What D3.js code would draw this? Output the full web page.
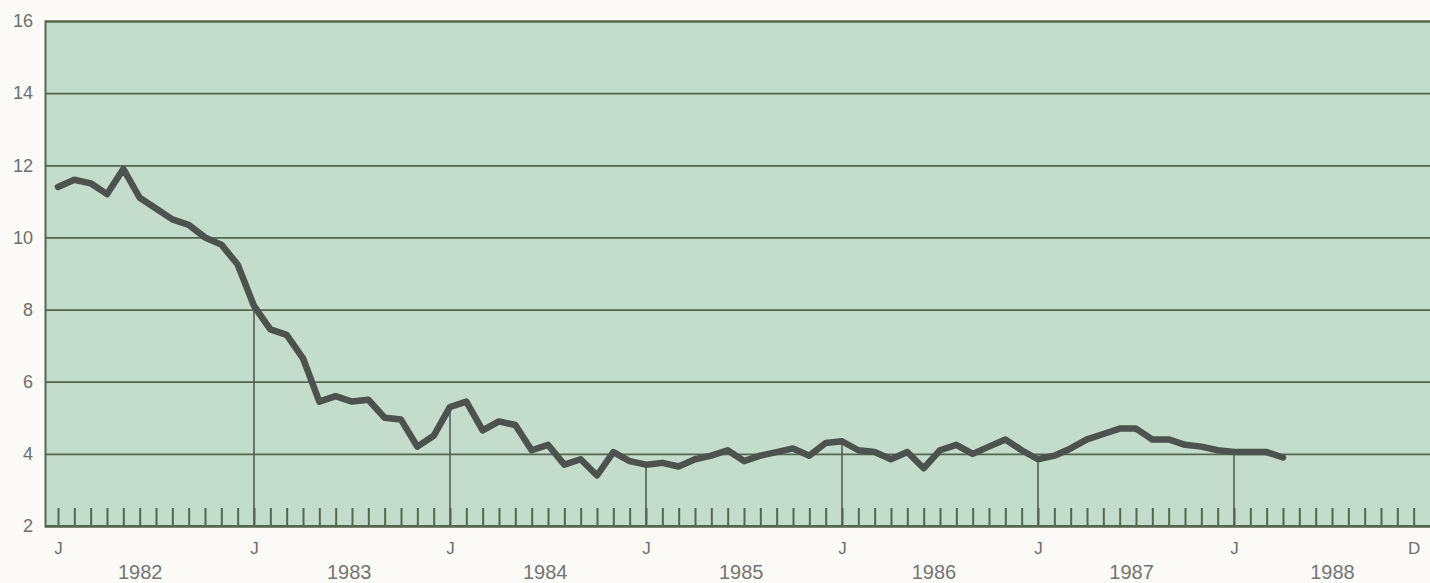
<!DOCTYPE html>
<html>
<head>
<meta charset="utf-8">
<script src="https://cdn.jsdelivr.net/npm/d3@7"></script>
<style>
  html, body { margin: 0; padding: 0; background: #fcfaf7; }
  svg { display: block; }
  text { font-family: "Liberation Sans", Arial, Helvetica, sans-serif; }
</style>
</head>
<body>
<svg id="chart" width="1430" height="583"></svg>
<script>
// Monthly values, Jan 1982 .. Apr 1988 (index 0 = Jan 1982)
const values1982 = [11.4, 11.6, 11.5, 11.2, 11.9, 11.1, 10.8, 10.5, 10.35, 10.0, 9.8, 9.25];
const values1983 = [8.1, 7.45, 7.3, 6.65, 5.45, 5.6, 5.45, 5.5, 5.0, 4.95, 4.2, 4.5];
const values1984 = [5.3, 5.45, 4.65, 4.9, 4.8, 4.1, 4.25, 3.7, 3.85, 3.4, 4.05, 3.8];
const values1985 = [3.7, 3.75, 3.65, 3.85, 3.95, 4.1, 3.8, 3.95, 4.05, 4.15, 3.95, 4.3];
const values1986 = [4.35, 4.1, 4.05, 3.85, 4.05, 3.6, 4.1, 4.25, 4.0, 4.2, 4.4, 4.1];
const values1987 = [3.85, 3.95, 4.15, 4.4, 4.55, 4.7, 4.7, 4.4, 4.4, 4.25, 4.2, 4.1];
const values1988 = [4.05, 4.05, 4.05, 3.9];

const yTicks = [2, 4, 6, 8, 10, 12, 14, 16];
const years = ["1982", "1983", "1984", "1985", "1986", "1987", "1988"];
const monthLabelIdx = [0, 12, 24, 36, 48, 60, 72, 83];
const monthLabels = ["J", "J", "J", "J", "J", "J", "J", "D"];
const yearLabelIdx = [5.0, 17.8, 29.8, 41.8, 53.6, 65.7, 78.0];
const dropLineIdx = [12, 24, 36, 48, 60, 72];
const totalMonths = 84;

const series = [].concat(values1982, values1983, values1984, values1985, values1986, values1987, values1988)
  .map((v, i) => ({ i, v }));

const svg = d3.select("#chart");
const plotL = 45, plotR = 1430, plotT = 21, plotB = 526;

const x = d3.scaleLinear().domain([0, 72]).range([58, 1234]);
const y = d3.scaleLinear().domain([2, 16]).range([plotB, plotT]);

const ink = "#526650";
const labelColor = "#6e6e6e";

// plot background
svg.append("rect")
  .attr("x", plotL).attr("y", plotT)
  .attr("width", plotR - plotL).attr("height", plotB - plotT)
  .attr("fill", "#c3dccb");

// horizontal gridlines + y labels
const yAxis = svg.append("g")
  .attr("transform", `translate(${plotL},0)`)
  .call(d3.axisLeft(y).tickValues(yTicks).tickSize(-(plotR - plotL)).tickPadding(12).tickFormat(d3.format("d")));
yAxis.select(".domain").attr("stroke", ink).attr("stroke-width", 2);
yAxis.selectAll(".tick line").attr("stroke", ink).attr("stroke-width", 1.8);
yAxis.selectAll(".tick text")
  .attr("fill", labelColor).attr("font-size", 18).attr("text-anchor", "end")
  .attr("x", 33 - plotL);

// monthly tick marks on the bottom axis
const mAxis = svg.append("g")
  .attr("transform", `translate(0,${plotB})`)
  .call(d3.axisBottom(x).tickValues(d3.range(0, totalMonths)).tickSize(-18).tickFormat(""));
mAxis.select(".domain").remove();
mAxis.selectAll(".tick line").attr("stroke", ink).attr("stroke-width", 2);

svg.append("line")
  .attr("x1", plotL).attr("x2", plotR)
  .attr("y1", plotB).attr("y2", plotB)
  .attr("stroke", ink).attr("stroke-width", 2.2);

// month letters
const lAxis = svg.append("g")
  .attr("transform", `translate(0,${plotB})`)
  .call(d3.axisBottom(x).tickValues(monthLabelIdx).tickSize(0).tickPadding(16)
    .tickFormat((d, k) => monthLabels[k]));
lAxis.select(".domain").remove();
lAxis.selectAll(".tick text").attr("fill", labelColor).attr("font-size", 17);

// year labels
const yrAxis = svg.append("g")
  .attr("transform", `translate(0,${plotB})`)
  .call(d3.axisBottom(x).tickValues(yearLabelIdx).tickSize(0).tickPadding(39)
    .tickFormat((d, k) => years[k]));
yrAxis.select(".domain").remove();
yrAxis.selectAll(".tick text").attr("fill", "#747474").attr("font-size", 20);

// drop lines at January
svg.append("g").selectAll("line")
  .data(dropLineIdx)
  .join("line")
  .attr("x1", d => x(d)).attr("x2", d => x(d))
  .attr("y1", d => y(series[d].v)).attr("y2", plotB)
  .attr("stroke", "#55605a").attr("stroke-width", 1.6);

// data line
svg.append("path")
  .datum(series)
  .attr("fill", "none")
  .attr("stroke", "#4c524d")
  .attr("stroke-width", 6.5)
  .attr("stroke-linejoin", "round")
  .attr("stroke-linecap", "round")
  .attr("d", d3.line().x(d => x(d.i)).y(d => y(d.v)));
</script>
</body>
</html>
